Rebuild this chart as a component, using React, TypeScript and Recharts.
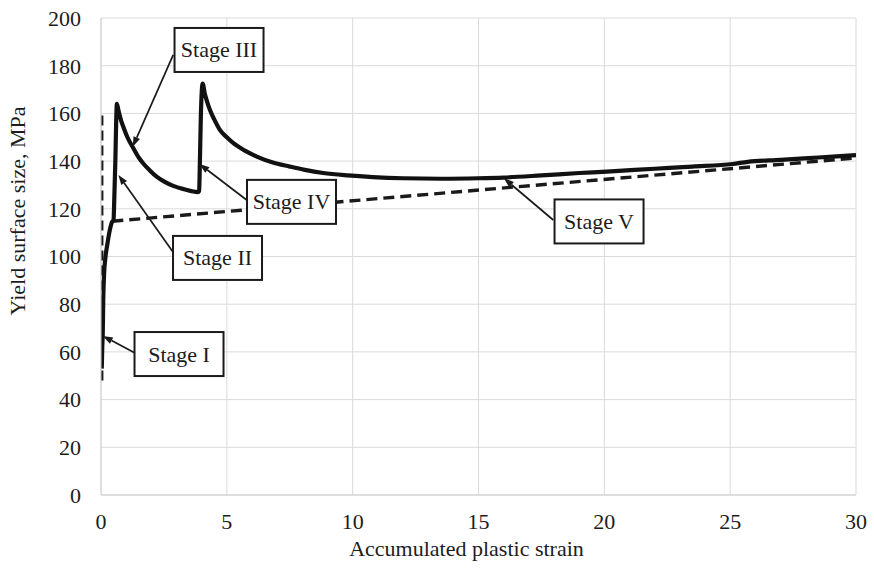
import React from "react";
import { LineChart, Line, XAxis, YAxis, CartesianGrid, ReferenceLine, ReferenceDot } from "recharts";

// Accumulated plastic strain (x) vs yield surface size, MPa (y)
const solidX = [0.03, 0.05, 0.07, 0.09, 0.12, 0.18, 0.25, 0.33, 0.42, 0.5, 0.53, 0.57, 0.6, 0.63, 0.7, 0.8, 0.9, 1.05, 1.28, 1.5, 1.68, 1.95, 2.21, 2.5, 2.87, 3.3, 3.85, 3.9, 3.93, 3.97, 4.04, 4.12, 4.2, 4.33, 4.5, 4.73, 5.0, 5.26, 5.7, 6.19, 6.8, 7.5, 8.1, 8.83, 9.8, 10.8, 12, 13.5, 15, 16, 17.5, 19, 20.1, 22, 23.5, 25.1, 25.7, 27, 28.5, 30];
const solidY = [53, 62, 68, 82, 92, 100, 105, 110, 114, 115.5, 125, 140, 155, 164, 161, 157, 154, 150, 145.5, 141.5, 139, 136, 133.5, 131.5, 129.6, 128.2, 127, 127.5, 140, 160, 172.5, 168.5, 165.5, 161.4, 157.5, 153, 150, 147.5, 144.5, 141.9, 139.5, 137.7, 136.3, 135, 134, 133.3, 132.8, 132.6, 132.8, 133.1, 134, 135, 135.6, 136.8, 137.7, 138.8, 139.7, 140.5, 141.5, 142.5];

const dashVertX = [0.04, 0.04];
const dashVertY = [48, 161];

const dashRiseX = [0.45, 30];
const dashRiseY = [114.8, 141.3];

const xTicks = [0, 5, 10, 15, 20, 25, 30];
const yTicks = [0, 20, 40, 60, 80, 100, 120, 140, 160, 180, 200];

// annotations: label, box centre (data), arrow start (data), arrow tip (data)
const stageLabels = ["Stage I", "Stage II", "Stage III", "Stage IV", "Stage V"];
const boxX = [3.1, 4.63, 4.69, 7.57, 19.79];
const boxY = [59.1, 99.4, 186.6, 122.9, 114.7];
const arrowFromX = [1.35, 2.86, 2.87, 5.79, 17.97];
const arrowFromY = [59.5, 101.9, 184.5, 123.7, 115.3];
const arrowToX = [0.07, 0.69, 1.26, 3.91, 16.01];
const arrowToY = [66.7, 134.2, 146.0, 138.8, 132.8];

const zip = (xs: number[], ys: number[]) => xs.map((x, i) => ({ x, y: ys[i] }));
const solidData = zip(solidX, solidY);
const dashVertData = zip(dashVertX, dashVertY);
const dashRiseData = zip(dashRiseX, dashRiseY);

const FONT = "'Liberation Serif', 'Times New Roman', serif";
const TXT = "#1c1c1c";

const Arrow = (p: any) => {
  const { x1, y1, x2, y2 } = p;
  const dx = x2 - x1;
  const dy = y2 - y1;
  const len = Math.sqrt(dx * dx + dy * dy) || 1;
  const ux = dx / len;
  const uy = dy / len;
  const hl = 10;
  const hw = 3.5;
  const bx = x2 - ux * hl;
  const by = y2 - uy * hl;
  const pts = `${x2},${y2} ${bx - uy * hw},${by + ux * hw} ${bx + uy * hw},${by - ux * hw}`;
  return (
    <g>
      <line x1={x1} y1={y1} x2={bx} y2={by} stroke="#1a1a1a" strokeWidth={1.7} />
      <polygon points={pts} fill="#1a1a1a" />
    </g>
  );
};

const makeBox = (text: string) => (p: any) => {
  const { cx, cy } = p;
  const w = 89;
  const h = 44;
  return (
    <g>
      <rect x={cx - w / 2} y={cy - h / 2} width={w} height={h} fill="#fff" stroke="#1a1a1a" strokeWidth={2} />
      <text x={cx} y={cy} textAnchor="middle" dominantBaseline="central" fontFamily={FONT} fontSize={22} fill={TXT}>
        {text}
      </text>
    </g>
  );
};

const XTitle = (p: any) => {
  const vb = p.viewBox || {};
  return (
    <text x={vb.x + vb.width / 2 - 12} y={548} textAnchor="middle" dominantBaseline="central" fontFamily={FONT} fontSize={22} fill={TXT}>
      Accumulated plastic strain
    </text>
  );
};

const YTitle = () => (
  <text x={17} y={211} transform="rotate(-90, 17, 211)" textAnchor="middle" dominantBaseline="central" fontFamily={FONT} fontSize={22} fill={TXT}>
    Yield surface size, MPa
  </text>
);

export default function App() {
  return (
    <div style={{ position: "absolute", left: 0, top: 0, width: 874, height: 571, background: "#fff" }}>
      <LineChart width={874} height={571} margin={{ top: 18, right: 18, bottom: 36, left: 41 }}>
        <CartesianGrid stroke="#dadada" strokeWidth={1} />
        <XAxis
          type="number"
          dataKey="x"
          domain={[0, 30]}
          ticks={xTicks}
          allowDataOverflow
          height={40}
          tickLine={false}
          tickSize={0}
          tickMargin={18}
          axisLine={{ stroke: "#d0d0d0" }}
          tick={{ fontFamily: FONT, fontSize: 22, fill: TXT }}
          label={<XTitle />}
        />
        <YAxis
          type="number"
          dataKey="y"
          domain={[0, 200]}
          ticks={yTicks}
          allowDataOverflow
          width={60}
          tickLine={false}
          tickSize={0}
          tickMargin={20}
          axisLine={{ stroke: "#d0d0d0" }}
          tick={{ fontFamily: FONT, fontSize: 22, fill: TXT }}
          label={<YTitle />}
        />
        <Line data={dashVertData} dataKey="y" type="linear" stroke="#1a1a1a" strokeWidth={2.8} strokeDasharray="10 5" dot={false} isAnimationActive={false} />
        <Line data={dashRiseData} dataKey="y" type="linear" stroke="#1a1a1a" strokeWidth={3.4} strokeDasharray="11 6" dot={false} isAnimationActive={false} />
        <Line data={solidData} dataKey="y" type="monotone" stroke="#111" strokeWidth={4.2} strokeLinejoin="round" dot={false} isAnimationActive={false} />
        {stageLabels.map((s, i) => (
          <ReferenceLine
            key={"a" + i}
            segment={[
              { x: arrowFromX[i], y: arrowFromY[i] },
              { x: arrowToX[i], y: arrowToY[i] },
            ]}
            shape={Arrow}
          />
        ))}
        {stageLabels.map((s, i) => (
          <ReferenceDot key={"b" + i} x={boxX[i]} y={boxY[i]} r={1} shape={makeBox(s)} />
        ))}
      </LineChart>
    </div>
  );
}
